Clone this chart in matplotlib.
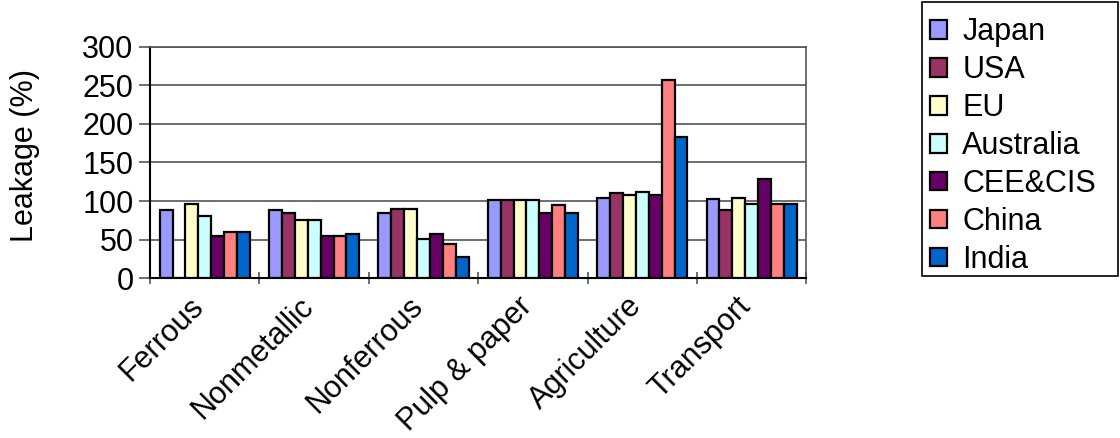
import numpy as np
import matplotlib.pyplot as plt
from matplotlib.patches import Rectangle
from matplotlib.transforms import ScaledTranslation

plt.rcParams['font.family'] = ['Liberation Sans', 'DejaVu Sans']

sectors = ['Ferrous', 'Nonmetallic', 'Nonferrous', 'Pulp & paper', 'Agriculture', 'Transport']
regions = ['Japan', 'USA', 'EU', 'Australia', 'CEE&CIS', 'China', 'India']
colors = ['#9999FF', '#993366', '#FFFFCC', '#CCFFFF', '#660066', '#FF8080', '#0066CC']

japan = [89, 89, 84, 101, 104, 103]
usa = [0, 84, 90, 101, 111, 89]
eu = [96, 76, 90, 101, 108, 104]
australia = [81, 75, 51, 101, 112, 96]
cee_cis = [55, 55, 57, 84, 108, 128]
china = [60, 55, 44, 95, 257, 96]
india = [60, 57, 28, 84, 183, 96]
series = [japan, usa, eu, australia, cee_cis, china, india]

FS = 22

fig = plt.figure(figsize=(11.2, 4.38), dpi=100)
ax = fig.add_axes([0.134, 0.365, 0.586, 0.528])

x = np.arange(len(sectors))
bw = 0.118
for i, (vals, c, name) in enumerate(zip(series, colors, regions)):
    off = (i - 3) * bw
    ax.bar(x + off, vals, bw, color=c, edgecolor='black', linewidth=1.6,
           label=name, zorder=3)

ax.set_xlim(-0.5, len(sectors) - 0.5)
ax.set_ylim(0, 300)
ax.set_yticks(range(0, 301, 50))
ax.yaxis.grid(True, color='#555555', linewidth=1.2, zorder=0)
ax.set_axisbelow(True)

# category boundary ticks below the axis
ax.set_xticks(np.arange(-0.5, len(sectors)), minor=False)
ax.set_xticklabels([])
ax.tick_params(axis='x', length=8, direction='inout', width=1.2, color='#555555')
ax.set_xticks(x, minor=True)
ax.set_xticklabels(sectors, minor=True, rotation=45, ha='right',
                   rotation_mode='anchor', fontsize=FS)
ax.tick_params(axis='x', which='minor', length=0, pad=10)
shift = ScaledTranslation(-16 / 100, 1 / 100, fig.dpi_scale_trans)
for lab in ax.get_xticklabels(minor=True):
    lab.set_transform(lab.get_transform() + shift)
ax.tick_params(axis='y', labelsize=FS, length=8, width=1.2, color='#555555', pad=4)

for s in ['top', 'right']:
    ax.spines[s].set_color('#555555')
    ax.spines[s].set_linewidth(1.2)
ax.spines['left'].set_linewidth(1.5)
ax.spines['bottom'].set_linewidth(1.5)

ax.set_ylabel('Leakage (%)', fontsize=FS)
ax.yaxis.set_label_coords(-0.168, 0.53)

# legend entries without frame, box drawn separately
leg = fig.legend(loc='upper left', bbox_to_anchor=(915 / 1120, 1 - 2 / 438),
                 fontsize=FS, frameon=False,
                 handlelength=0.55, handleheight=0.55, handletextpad=0.5,
                 labelspacing=0.26, borderpad=0.5, borderaxespad=0)
fig.patches.append(Rectangle((922 / 1120, 1 - 276 / 438), 196 / 1120, 274 / 438,
                             transform=fig.transFigure, fill=False,
                             edgecolor='black', linewidth=1.2))

fig.savefig('out.png', dpi=100)
